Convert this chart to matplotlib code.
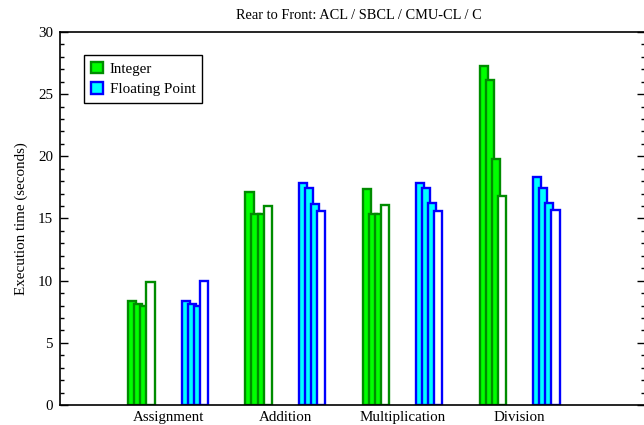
import matplotlib
matplotlib.use("Agg")
import matplotlib.pyplot as plt
from matplotlib.patches import Patch
from matplotlib.ticker import MultipleLocator
import numpy as np

# Benchmark data (seconds); implementations listed rear to front
operations = ["Assignment", "Addition", "Multiplication", "Division"]
implementations = ["ACL", "SBCL", "CMU-CL", "C"]

integer_times = {
    "ACL":    [8.35, 17.15, 17.38, 27.25],
    "SBCL":   [8.12, 15.40, 15.37, 26.15],
    "CMU-CL": [8.00, 15.40, 15.37, 19.80],
    "C":      [9.92, 16.03, 16.08, 16.84],
}
float_times = {
    "ACL":    [8.37, 17.88, 17.88, 18.32],
    "SBCL":   [8.12, 17.48, 17.43, 17.48],
    "CMU-CL": [8.00, 16.17, 16.22, 16.28],
    "C":      [9.97, 15.60, 15.63, 15.69],
}

plt.rcParams["font.family"] = ["Liberation Serif", "DejaVu Serif"]
plt.rcParams["font.size"] = 10.8

fig = plt.figure(figsize=(6.44, 4.25), dpi=100)
W, H = 644, 425
left, right, top, bottom = 60, 645, 32, 405
ax = fig.add_axes([left / W, 1 - bottom / H, (right - left) / W, (bottom - top) / H])

x = np.arange(len(operations))
group_offset = 0.228
step = 0.052
bar_w = 0.07

series = [
    (integer_times, -group_offset, "#00ff00", "#008c00"),
    (float_times, group_offset, "#00ffff", "#0000ff"),
]
for data, offset, fill, edge in series:
    for i, impl in enumerate(implementations):
        face = "white" if impl == "C" else fill
        ax.bar(x + offset + (i - 1.5) * step, data[impl], width=bar_w,
               color=face, edgecolor=edge, linewidth=1.7, zorder=2 + i)

ax.set_xlim(-0.923, 4.07)
ax.set_ylim(0, 30)
ax.set_xticks(x)
ax.set_xticklabels(operations)
ax.tick_params(axis="x", length=0, pad=4)
ax.yaxis.set_major_locator(MultipleLocator(5))
ax.yaxis.set_minor_locator(MultipleLocator(1))
ax.tick_params(axis="y", which="both", direction="in", left=True, right=True, pad=5)
ax.tick_params(axis="y", which="major", length=5.5, width=1)
ax.tick_params(axis="y", which="minor", length=2.6, width=1)
for s in ax.spines.values():
    s.set_linewidth(1.2)
    s.set_zorder(10)

ax.set_ylabel("Execution time (seconds)", labelpad=7)
ax.set_title("Rear to Front: ACL / SBCL / CMU-CL / C", fontsize=10.4,
             x=(359 - left) / (right - left), pad=9)

handles = [
    Patch(facecolor="#00ff00", edgecolor="#008c00", linewidth=1.7, label="Integer"),
    Patch(facecolor="#00ffff", edgecolor="#0000ff", linewidth=1.7, label="Floating Point"),
]
leg = ax.legend(handles=handles, loc="upper left",
                bbox_to_anchor=(84 / W, 1 - 55 / H), bbox_transform=fig.transFigure,
                borderaxespad=0, fancybox=False, framealpha=1, edgecolor="black",
                handlelength=0.8, handleheight=0.8, handletextpad=0.45,
                labelspacing=0.45, borderpad=0.45)
leg.get_frame().set_linewidth(1.0)

fig.savefig("out.png", dpi=100)
